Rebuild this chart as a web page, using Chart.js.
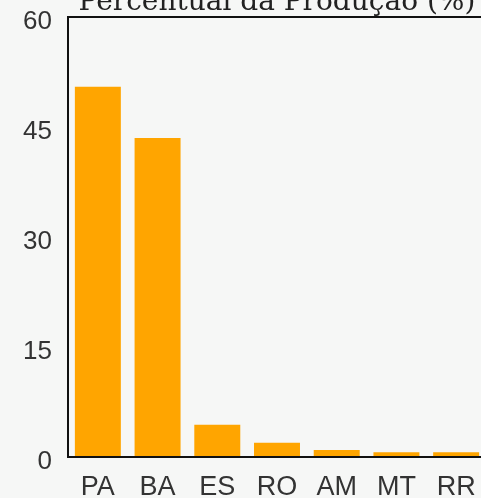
<!DOCTYPE html>
<html>
<head>
<meta charset="utf-8">
<script src="https://cdn.jsdelivr.net/npm/chart.js@4/dist/chart.umd.min.js"></script>
<style>
  html, body { margin: 0; padding: 0; overflow: hidden; background: #f6f7f6; }
  #wrap { width: 500px; height: 498px; }
</style>
</head>
<body>
<div id="wrap"><canvas id="c" width="500" height="498"></canvas></div>
<script>
// Participação de cada estado na produção (%)
const estados = ['PA', 'BA', 'ES', 'RO', 'AM', 'MT', 'RR'];
const percentual = [50.5, 43.5, 4.4, 1.95, 0.95, 0.65, 0.65];
const yTicks = [0, 15, 30, 45, 60];
const titulo = 'Percentual da Produção (%)';

// contorno da área do gráfico
const moldura = {
  id: 'moldura',
  afterDraw(chart) {
    const { ctx, chartArea: a } = chart;
    ctx.save();
    ctx.strokeStyle = '#111';
    ctx.lineWidth = 2;
    ctx.strokeRect(a.left, a.top, a.right - a.left, a.bottom - a.top);
    ctx.restore();
  }
};

// título centrado sobre a área do gráfico, rente à borda superior
const tituloTopo = {
  id: 'tituloTopo',
  afterDraw(chart) {
    const { ctx, chartArea: a } = chart;
    ctx.save();
    ctx.fillStyle = '#222';
    ctx.font = '28px "DejaVu Serif"';
    ctx.textAlign = 'center';
    ctx.textBaseline = 'alphabetic';
    ctx.fillText(titulo, (a.left + a.right) / 2, a.top - 7);
    ctx.restore();
  }
};

new Chart(document.getElementById('c'), {
  type: 'bar',
  data: {
    labels: estados,
    datasets: [{
      data: percentual,
      backgroundColor: '#ffa500',
      borderWidth: 0,
      categoryPercentage: 1,
      barPercentage: 0.77
    }]
  },
  options: {
    responsive: false,
    animation: false,
    layout: { padding: { left: 0, right: 14, top: 17, bottom: 0 } },
    plugins: {
      legend: { display: false },
      tooltip: { enabled: false },
      title: { display: false }
    },
    scales: {
      x: {
        afterFit(axis) {
          axis.height = 41;
          axis.paddingLeft = 0;
          axis.paddingRight = 0;
        },
        grid: { display: false, drawTicks: false },
        border: { display: false },
        ticks: {
          color: '#333',
          padding: 14,
          font: { family: 'Liberation Sans', size: 27 }
        }
      },
      y: {
        min: 0,
        max: 60,
        afterFit(axis) {
          axis.width = 68;
          axis.paddingTop = 0;
          axis.paddingBottom = 0;
        },
        afterBuildTicks(axis) { axis.ticks = yTicks.map(v => ({ value: v })); },
        grid: { display: false, drawTicks: false },
        border: { display: false },
        ticks: {
          color: '#333',
          padding: 16,
          labelOffset: 5,
          font: { family: 'Liberation Sans', size: 26, lineHeight: 1 }
        }
      }
    }
  },
  plugins: [moldura, tituloTopo]
});
</script>
</body>
</html>
